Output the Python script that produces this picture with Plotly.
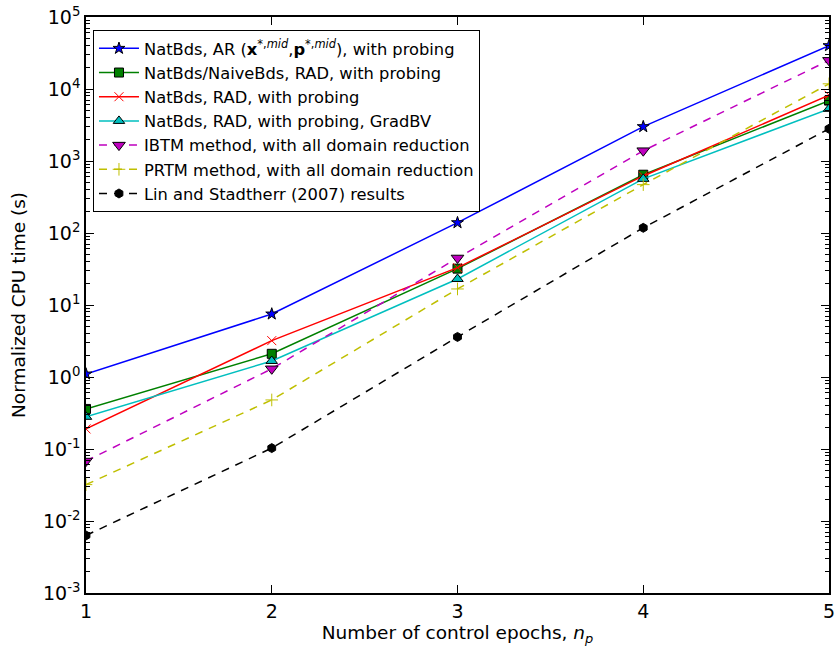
import plotly.graph_objects as go

epochs = [1, 2, 3, 4, 5]

ar_probing = [1.1, 7.5, 139, 3000, 40000]
naive_rad = [0.36, 2.1, 32, 645, 6900]
rad_probing = [0.19, 3.2, 33, 620, 8200]
rad_gradbv = [0.28, 1.67, 23, 565, 5300]
ibtm = [0.068, 1.3, 45, 1390, 25000]
prtm = [0.032, 0.48, 16.7, 470, 11800]
lin_stadtherr = [0.0063, 0.103, 3.6, 118, 2800]

names = [
    "NatBds, AR (<b>x</b><sup>*,<i>mid</i></sup>,<b>p</b><sup>*,<i>mid</i></sup>), with probing",
    "NatBds/NaiveBds, RAD, with probing",
    "NatBds, RAD, with probing",
    "NatBds, RAD, with probing, GradBV",
    "IBTM method, with all domain reduction",
    "PRTM method, with all domain reduction",
    "Lin and Stadtherr (2007) results",
]

y_tick_vals = [1e-3, 1e-2, 1e-1, 1, 10, 100, 1e3, 1e4, 1e5]
y_tick_text = ["10<sup>-3</sup>", "10<sup>-2</sup>", "10<sup>-1</sup>", "10<sup>0</sup>",
               "10<sup>1</sup>", "10<sup>2</sup>", "10<sup>3</sup>", "10<sup>4</sup>", "10<sup>5</sup>"]

series = [ar_probing, naive_rad, rad_probing, rad_gradbv, ibtm, prtm, lin_stadtherr]
styles = [
    dict(color="#0000ff", dash="solid", symbol="star", size=9, mline="black"),
    dict(color="#008000", dash="solid", symbol="square", size=9, mline="black"),
    dict(color="#ff0000", dash="solid", symbol="x-thin", size=9, mline="#ff0000"),
    dict(color="#00bfbf", dash="solid", symbol="triangle-up", size=10, mline="black"),
    dict(color="#bf00bf", dash="8px,7px", symbol="triangle-down", size=11, mline="black"),
    dict(color="#bfbf00", dash="8px,7px", symbol="cross-thin", size=9, mline="#bfbf00"),
    dict(color="#000000", dash="8px,7px", symbol="hexagon", size=9, mline="black"),
]

fig = go.Figure()
for name, vals, st in zip(names, series, styles):
    fig.add_trace(go.Scatter(
        x=epochs, y=vals, name=name, mode="lines+markers",
        line=dict(color=st["color"], width=1.5, dash=st["dash"]),
        marker=dict(symbol=st["symbol"], size=st["size"], color=st["color"],
                    line=dict(color=st["mline"], width=1)),
    ))

fig.update_layout(
    width=836, height=650,
    margin=dict(l=86, r=7, t=17, b=57),
    paper_bgcolor="white", plot_bgcolor="white",
    font=dict(family="DejaVu Sans", size=18, color="black"),
    showlegend=True,
    legend=dict(
        x=0.0094, y=0.977, xanchor="left", yanchor="top",
        bgcolor="white", bordercolor="black", borderwidth=1,
        font=dict(size=16.3, family="DejaVu Sans"),
        tracegroupgap=0, itemwidth=40,
    ),
    xaxis=dict(
        range=[1, 5], tickvals=epochs, ticktext=[str(e) for e in epochs],
        automargin=False,
        showgrid=False, zeroline=False,
        showline=True, linecolor="black", linewidth=1.5, mirror="ticks",
        ticks="inside", ticklen=8, tickcolor="black",
        tickfont=dict(size=19),
        title=dict(text="Number of control epochs, <i>n<sub>p</sub></i>", font=dict(size=18.5), standoff=6),
    ),
    yaxis=dict(
        type="log", range=[-3, 5], tickvals=y_tick_vals, ticktext=y_tick_text,
        automargin=False,
        showgrid=False, zeroline=False,
        showline=True, linecolor="black", linewidth=1.5, mirror="ticks",
        ticks="inside", ticklen=8, tickcolor="black",
        tickfont=dict(size=19),
        minor=dict(ticks="inside", ticklen=4, tickcolor="black", dtick="D1", showgrid=False),
        title=dict(text="Normalized CPU time (s)", font=dict(size=18.5), standoff=13),
    ),
)

fig.write_html("out.html", config={"displayModeBar": False},
               post_script="document.body.style.margin='0';document.body.style.overflow='hidden';")
